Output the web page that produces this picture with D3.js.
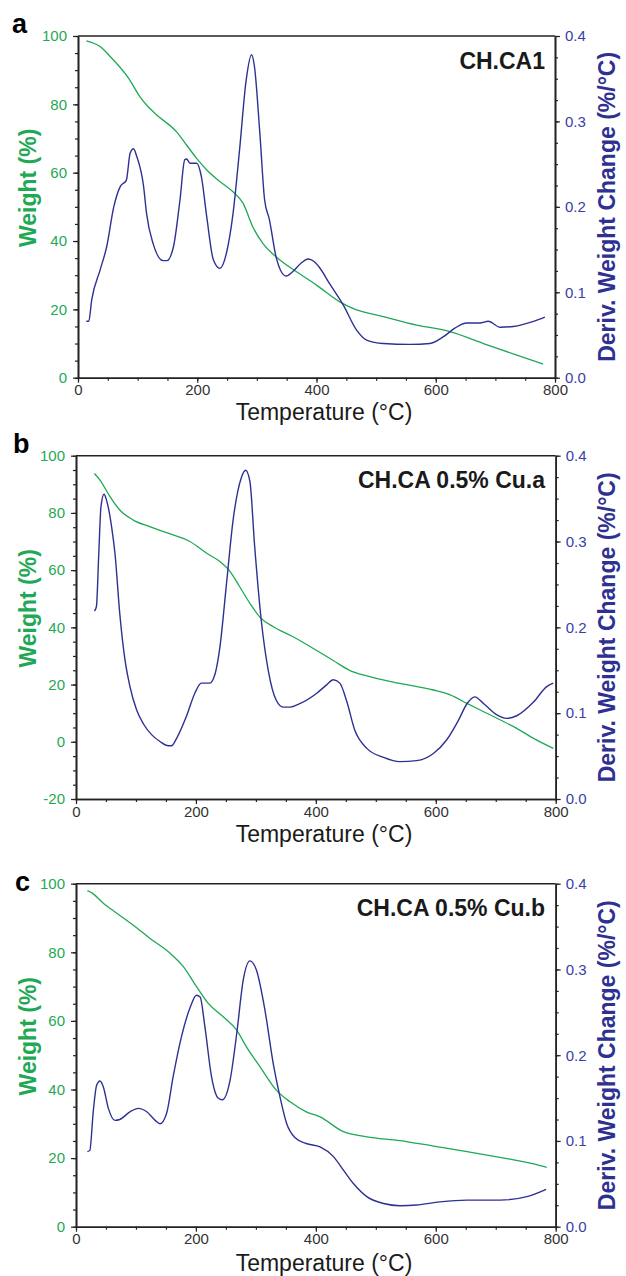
<!DOCTYPE html>
<html>
<head>
<meta charset="utf-8">
<script src="https://cdn.jsdelivr.net/npm/d3@7"></script>
<style>
  body { margin: 0; background: #fff; }
  svg { display: block; font-family: "Liberation Sans", Arial, sans-serif; }
</style>
</head>
<body>
<script>
// TGA data: [temperature (°C), value]

// a : CH.CA1
var aWeight = [[14,98.6],[37,96.9],[54,94],[85,87.6],[104,82.2],[115,79.8],[132,76.9],[165,72],[182,68.1],
  [199,64.2],[216,60.8],[238,57.4],[260,54.4],[277,51],[293,44.2],[310,39.3],[332,35.4],[371,30.5],[400,27.1],
  [439,22.2],[461,20.3],[512,17.9],[568,15.4],[624,13.5],[680,10],[736,6.6],[780,4.0]];
var aDeriv = [[14,0.066],[18,0.066],[23,0.091],[37,0.126],[48,0.153],[60,0.200],[71,0.224],[81,0.231],[87.5,0.263],
  [93,0.268],[98.6,0.259],[110,0.224],[115,0.192],[126,0.157],[143,0.137],[149,0.137],[160,0.153],[171,0.208],
  [179,0.255],[182,0.256],[188,0.251],[199,0.251],[207,0.235],[216,0.188],[227,0.138],[238,0.128],[249,0.146],
  [260,0.192],[271,0.267],[282,0.348],[291,0.378],[296,0.364],[305,0.286],[313,0.208],[321,0.185],[332,0.142],
  [341,0.124],[349,0.119],[360,0.124],[374,0.134],[386,0.139],[396,0.136],[405,0.129],[422,0.110],[445,0.085],
  [467,0.056],[484,0.044],[512,0.040],[557,0.039],[590,0.040],[613,0.048],[632,0.058],[652,0.064],[674,0.064],
  [688,0.066],[708,0.059],[730,0.060],[764,0.066],[783,0.071]];

// b : CH.CA 0.5% Cu.a
var bWeight = [[30.6,93.8],[40,91.5],[56.7,85.7],[73,81],[95.6,77.5],[123,75.2],[151,73.1],[190,70],[218,65.9],
  [240,63],[257,59.5],[273,54.2],[290,48.4],[307,43.5],[329,40.2],[362,36.7],[407,31.2],[429,28.4],[457,24.9],
  [485,23],[540,20.4],[596,18.1],[624,16.4],[652,13.4],[680,10.5],[708,7.6],[735,4.7],[763,1.2],[796,-2.3]];
var bDeriv = [[30.6,0.219],[34,0.224],[38,0.286],[41.7,0.341],[46.7,0.355],[51,0.348],[59.4,0.317],[65,0.286],
  [73,0.216],[81.7,0.162],[90,0.131],[101,0.104],[112,0.088],[126,0.075],[140,0.067],[154,0.062],[159,0.062],
  [168,0.071],[184,0.096],[198,0.123],[209,0.135],[223,0.135],[232,0.146],[240,0.177],[251,0.251],[262,0.325],
  [276,0.375],[283,0.383],[290,0.370],[298,0.294],[309,0.208],[320.6,0.150],[334,0.115],[345.6,0.107],[357,0.107],
  [373,0.111],[401,0.123],[418,0.133],[429,0.139],[440,0.135],[451,0.115],[465,0.080],[485,0.059],[513,0.0485],
  [540,0.0435],[568,0.0447],[596,0.053],[618,0.0687],[638,0.092],[652,0.111],[665,0.119],[680,0.111],[702,0.098],
  [718,0.094],[735,0.097],[763,0.113],[785,0.131],[796,0.135]];

// c : CH.CA 0.5% Cu.b
var cWeight = [[19,98],[26,97.4],[45.6,94.3],[68,91.4],[95.6,87.9],[123,84.1],[157,79.7],[179,75.8],[201,70],
  [220.6,65.1],[245.6,61.2],[268,57.3],[284,52.5],[307,46.6],[334,39.8],[357,36.4],[384,33.5],[407,32],[446,27.7],
  [485,26.2],[540,25.1],[596,23.5],[652,21.9],[707,20.2],[763,18.3],[785,17.3]];
var cDeriv = [[19,0.0875],[23,0.089],[29,0.136],[34.4,0.165],[40,0.170],[45.6,0.163],[54,0.138],[65,0.124],[73,0.125],
  [90,0.134],[104,0.138],[118,0.134],[132,0.124],[140,0.120],[151,0.132],[162,0.175],[176,0.222],[190,0.255],
  [201,0.270],[207,0.268],[215,0.233],[226,0.175],[237,0.150],[244,0.148],[257,0.171],[268,0.225],[279,0.288],
  [290,0.310],[301,0.299],[315,0.253],[329,0.190],[340,0.152],[351,0.121],[365,0.104],[384,0.097],[407,0.093],
  [429,0.082],[446,0.066],[463,0.050],[485,0.035],[513,0.027],[540,0.0245],[568,0.0253],[607,0.029],[652,0.031],
  [707,0.031],[752,0.035],[784,0.0435]];

var xTicks = [0, 200, 400, 600, 800];
var wTicksA = [0, 20, 40, 60, 80, 100];
var wTicksB = [-20, 0, 20, 40, 60, 80, 100];
var dTicks = [0, 0.1, 0.2, 0.3, 0.4];
var titles = ["CH.CA1", "CH.CA 0.5% Cu.a", "CH.CA 0.5% Cu.b"];
var letters = ["a", "b", "c"];

var green = "#1fa855", blue = "#2e3192", ink = "#1a1a1a";

var svg = d3.select("body").append("svg")
  .attr("width", 626)
  .attr("height", 1276);

// panel boxes in page pixels
var panels = [
  {i: 0, weight: aWeight, deriv: aDeriv, wTicks: wTicksA, left: 78, right: 555, top: 36, bottom: 377.7, ly: 33, lx: 12, xl: 42.5},
  {i: 1, weight: bWeight, deriv: bDeriv, wTicks: wTicksB, left: 76, right: 555.7, top: 455.7, bottom: 799, ly: 453, lx: 13, xl: 42.5},
  {i: 2, weight: cWeight, deriv: cDeriv, wTicks: wTicksA, left: 76, right: 555.7, top: 883.7, bottom: 1226.7, ly: 891, lx: 15, xl: 44}
];

panels.forEach(drawPanel);

function styleAxis(sel, color) {
  sel.selectAll(".domain").attr("stroke", "#222").attr("stroke-width", 1.6);
  sel.selectAll(".tick line").attr("stroke", "#222").attr("stroke-width", 1.2);
  sel.selectAll(".tick text").attr("fill", color).style("font-size", "15px")
    .style("font-family", "'Liberation Sans', Arial, sans-serif");
}

function drawPanel(p) {
  var g = svg.append("g");
  var x = d3.scaleLinear().domain([0, 800]).range([p.left, p.right]);
  var yW = d3.scaleLinear().domain(d3.extent(p.wTicks)).range([p.bottom, p.top]);
  var yD = d3.scaleLinear().domain([0, 0.4]).range([p.bottom, p.top]);
  var w0 = d3.min(p.wTicks);

  // minor ticks
  g.append("g").attr("transform", "translate(0," + p.bottom + ")")
    .call(d3.axisBottom(x).tickValues(d3.range(0, 801, 50)).tickSize(3).tickFormat("").tickSizeOuter(0))
    .call(styleAxis, ink);
  g.append("g").attr("transform", "translate(" + p.left + ",0)")
    .call(d3.axisLeft(yW).tickValues(d3.range(w0, 101, 5)).tickSize(3).tickFormat("").tickSizeOuter(0))
    .call(styleAxis, green);
  g.append("g").attr("transform", "translate(" + p.right + ",0)")
    .call(d3.axisRight(yD).tickValues(d3.range(0, 0.4001, 0.025)).tickSize(3).tickFormat("").tickSizeOuter(0))
    .call(styleAxis, blue);

  // major ticks + labels
  g.append("g").attr("transform", "translate(0," + p.bottom + ")")
    .call(d3.axisBottom(x).tickValues(xTicks).tickSize(5).tickPadding(2).tickSizeOuter(0))
    .call(styleAxis, "#333");
  g.append("g").attr("transform", "translate(" + p.left + ",0)")
    .call(d3.axisLeft(yW).tickValues(p.wTicks).tickSize(5).tickPadding(6).tickSizeOuter(0)
      .tickFormat(function(d) { return String(d); }))
    .call(styleAxis, green);
  g.append("g").attr("transform", "translate(" + p.right + ",0)")
    .call(d3.axisRight(yD).tickValues(dTicks).tickSize(5).tickPadding(5).tickFormat(d3.format(".1f")).tickSizeOuter(0))
    .call(styleAxis, "#3a3ea6");

  // top frame
  g.append("line")
    .attr("x1", p.left).attr("x2", p.right)
    .attr("y1", p.top).attr("y2", p.top)
    .style("stroke", "#222").style("stroke-width", 1.6);

  var lineW = d3.line().x(function(d) { return x(d[0]); }).y(function(d) { return yW(d[1]); }).curve(d3.curveMonotoneX);
  var lineD = d3.line().x(function(d) { return x(d[0]); }).y(function(d) { return yD(d[1]); }).curve(d3.curveMonotoneX);

  g.append("path").datum(p.weight).attr("d", lineW)
    .style("fill", "none").style("stroke", green).style("stroke-width", 1.3);
  g.append("path").datum(p.deriv).attr("d", lineD)
    .style("fill", "none").style("stroke", blue).style("stroke-width", 1.4);

  // title inside plot
  g.append("text")
    .attr("x", 545).attr("y", p.top + 32.5)
    .attr("text-anchor", "end")
    .style("font-size", "23px").style("font-weight", "bold").style("fill", ink)
    .text(titles[p.i]);

  // panel letter
  g.append("text")
    .attr("x", p.lx).attr("y", p.ly)
    .style("font-size", "27px").style("font-weight", "bold").style("fill", "#000")
    .text(letters[p.i]);

  // axis titles
  g.append("text")
    .attr("x", 324).attr("y", p.bottom + p.xl)
    .attr("text-anchor", "middle")
    .style("font-size", "23px").style("fill", ink)
    .text("Temperature (°C)");

  var mid = (p.top + p.bottom) / 2;
  g.append("text")
    .attr("transform", "translate(36," + (mid - 19) + ") rotate(-90)")
    .attr("text-anchor", "middle")
    .style("font-size", "23px").style("font-weight", "bold").style("fill", green)
    .text("Weight (%)");

  g.append("text")
    .attr("transform", "translate(615," + mid + ") rotate(-90)")
    .attr("text-anchor", "middle")
    .style("font-size", "23px").style("font-weight", "bold").style("fill", blue)
    .text("Deriv. Weight Change (%/°C)");
}
</script>
</body>
</html>
